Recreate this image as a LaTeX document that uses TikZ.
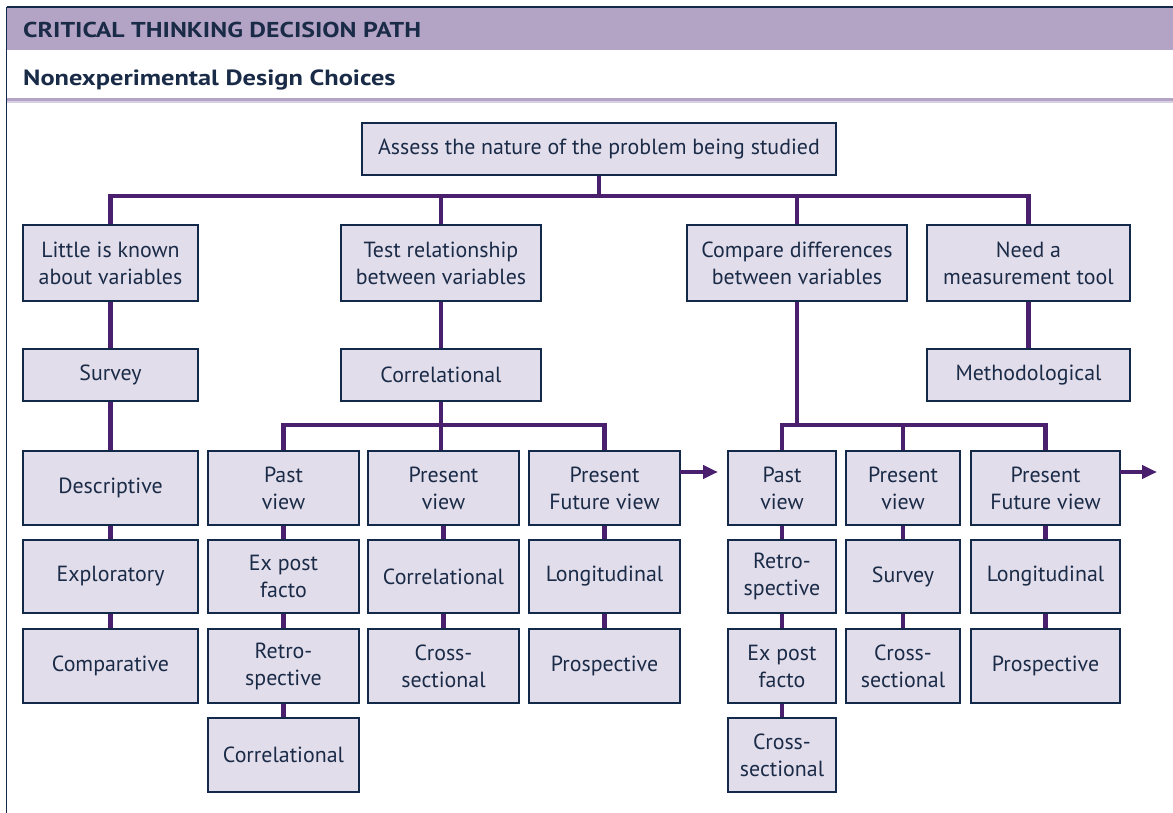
\documentclass[tikz,border=0pt]{standalone}
\usepackage{fontspec}
\setmainfont{PT Sans}
\newfontfamily\headfont[FakeStretch=1.2]{PT Sans}
\usetikzlibrary{arrows.meta}
\definecolor{navy}{HTML}{12294A}
\definecolor{ink}{HTML}{1A2B48}
\definecolor{plum}{HTML}{4A1F6E}
\definecolor{band}{HTML}{B3A3C5}
\definecolor{bandlight}{HTML}{D8CFE2}
\definecolor{boxfill}{HTML}{E2DDEA}
\pgfdeclarelayer{background}
\pgfsetlayers{background,main}
\tikzset{
  box/.style={draw=navy, line width=1.8pt, fill=boxfill, text=ink, align=center,
    inner sep=0pt, outer sep=0pt, font=\fontsize{21.9}{27}\selectfont},
  conn/.style={draw=plum, line width=4.5pt, line cap=rect, line join=miter},
  arr/.style={draw=plum, line width=4.5pt, -{Triangle[length=15pt,width=13pt]}},
  frameline/.style={draw=navy, line width=1.5pt},
}
% box from its corners: name, x1, y1, x2, y2, text
\newcommand\cornerbox[6]{%
  \node[box, minimum width={#4pt-#2pt}, minimum height={#5pt-#3pt}]
    (#1) at ({(#2+#4)/2},{(#3+#5)/2}) {#6};}
\begin{document}
\begin{tikzpicture}[x=1pt,y=-1pt]
\useasboundingbox (0,0) rectangle (1173,813);

% heading bands
\fill[band] (7,8) rectangle (1173,50);
\fill[band] (7,98) rectangle (1173,101.5);
\fill[bandlight] (7,101.5) rectangle (1173,103.5);
\draw[frameline] (6.5,7) -- (1173,7);
\draw[frameline] (6.5,7) -- (6.5,813);
\node[anchor=base west, inner sep=0pt, text=ink, font=\headfont\fontsize{21.5}{25}\selectfont\bfseries]
  (title) at (23,38) {CRITICAL THINKING DECISION PATH};
\node[anchor=base west, inner sep=0pt, text=ink, font=\headfont\fontsize{22}{25}\selectfont\bfseries]
  (subtitle) at (23,86) {Nonexperimental Design Choices};

% root
\cornerbox{root}{362}{123}{836}{175}{Assess the nature of the problem being studied}

% first level
\cornerbox{little}{23}{225}{198}{301}{Little is known\\about variables}
\cornerbox{test}{341}{225}{541}{301}{Test relationship\\between variables}
\cornerbox{compare}{687}{225}{907}{301}{Compare differences\\between variables}
\cornerbox{need}{927}{225}{1130}{301}{Need a\\measurement tool}

% second level
\cornerbox{survey}{23}{349}{198}{401}{Survey}
\cornerbox{corr}{341}{349}{541}{401}{Correlational}
\cornerbox{method}{927}{349}{1130}{401}{Methodological}

% left column
\cornerbox{descr}{23}{451}{198}{525}{Descriptive}
\cornerbox{explor}{23}{540}{198}{613}{Exploratory}
\cornerbox{compar}{23}{629}{198}{703}{Comparative}

% views under correlational
\cornerbox{pastA}{208}{451}{359}{525}{Past\\view}
\cornerbox{presA}{368}{451}{519}{525}{Present\\view}
\cornerbox{pfA}{529}{451}{680}{525}{Present\\Future view}
\cornerbox{expostA}{208}{540}{359}{613}{Ex post\\facto}
\cornerbox{retroA}{208}{629}{359}{703}{Retro-\\spective}
\cornerbox{corrA}{208}{718}{359}{792}{Correlational}
\cornerbox{corrB}{368}{540}{519}{613}{Correlational}
\cornerbox{crossA}{368}{629}{519}{703}{Cross-\\sectional}
\cornerbox{longA}{529}{540}{680}{613}{Longitudinal}
\cornerbox{prospA}{529}{629}{680}{703}{Prospective}

% views under compare differences
\cornerbox{pastB}{728}{451}{836}{525}{Past\\view}
\cornerbox{presB}{846}{451}{960}{525}{Present\\view}
\cornerbox{pfB}{971}{451}{1120}{525}{Present\\Future view}
\cornerbox{retroB}{728}{540}{836}{613}{Retro-\\spective}
\cornerbox{expostB}{728}{629}{836}{703}{Ex post\\facto}
\cornerbox{crossB}{728}{718}{836}{792}{Cross-\\sectional}
\cornerbox{surveyB}{846}{540}{960}{613}{Survey}
\cornerbox{crossC}{846}{629}{960}{703}{Cross-\\sectional}
\cornerbox{longB}{971}{540}{1120}{613}{Longitudinal}
\cornerbox{prospB}{971}{629}{1120}{703}{Prospective}

% bar heights and arrow ends
\coordinate (topbar) at (599,196);
\coordinate (barA) at (441,425);
\coordinate (barB) at (798,425);
\coordinate (endA) at (718,472);
\coordinate (endB) at (1157,472);

\begin{pgfonlayer}{background}
  % root to first level
  \draw[conn] (root.south) -- (root.south |- topbar);
  \draw[conn] (little.north) |- (need.north |- topbar) -- (need.north);
  \draw[conn] (test.north) -- (test.north |- topbar);
  \draw[conn] (compare.north) -- (compare.north |- topbar);
  % first to second level
  \draw[conn] (little.south) -- (survey.north);
  \draw[conn] (test.south) -- (corr.north);
  \draw[conn] (need.south) -- (method.north);
  % left column
  \draw[conn] (survey.south) -- (descr.north);
  \draw[conn] (descr.south) -- (explor.north);
  \draw[conn] (explor.south) -- (compar.north);
  % correlational branches
  \draw[conn] (corr.south) -- (corr.south |- presA.north);
  \draw[conn] (pastA.north) |- (pfA.north |- barA) -- (pfA.north);
  \draw[conn] (pastA.south) -- (expostA.north);
  \draw[conn] (expostA.south) -- (retroA.north);
  \draw[conn] (retroA.south) -- (corrA.north);
  \draw[conn] (presA.south) -- (corrB.north);
  \draw[conn] (corrB.south) -- (crossA.north);
  \draw[conn] (pfA.south) -- (longA.north);
  \draw[conn] (longA.south) -- (prospA.north);
  % compare differences branches
  \draw[conn] (compare.south) -- (compare.south |- barB);
  \draw[conn] (pastB.north) |- (pfB.north |- barB) -- (pfB.north);
  \draw[conn] (presB.north) -- (presB.north |- barB);
  \draw[conn] (pastB.south) -- (retroB.north);
  \draw[conn] (retroB.south) -- (expostB.north);
  \draw[conn] (expostB.south) -- (crossB.north);
  \draw[conn] (presB.south) -- (surveyB.north);
  \draw[conn] (surveyB.south) -- (crossC.north);
  \draw[conn] (pfB.south) -- (longB.north);
  \draw[conn] (longB.south) -- (prospB.north);
\end{pgfonlayer}

% onward arrows
\draw[arr] (pfA.east |- endA) -- (endA);
\draw[arr] (pfB.east |- endB) -- (endB);
\end{tikzpicture}
\end{document}
